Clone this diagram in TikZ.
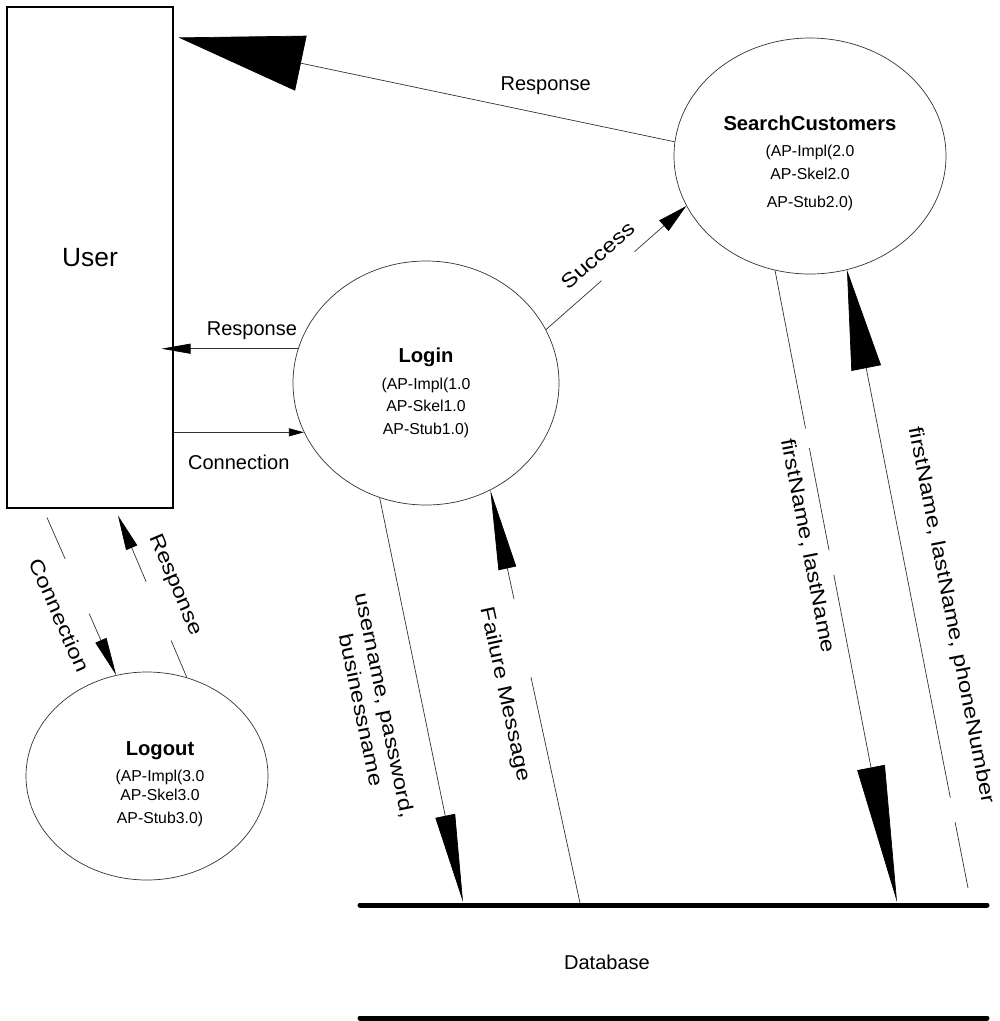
\documentclass[tikz,border=0pt]{standalone}
\usepackage{fontspec}
\setmainfont{Liberation Sans}
\usepackage{graphicx}
\usetikzlibrary{arrows.meta,calc,shapes.geometric}

\newcommand{\bubbletitle}{\fontsize{11.5}{14}\bfseries\selectfont}
\newcommand{\wide}[1]{\scalebox{1.2}[1]{#1}}

\tikzset{
  flow/.style={draw=black!80, line width=0.4pt},
  bubble/.style={draw=black!80, line width=0.4pt, ellipse, inner sep=0pt},
  bubbletext/.style={align=center, inner sep=0pt, font=\fontsize{9}{13}\selectfont},
  lbl/.style={font=\fontsize{11.4}{13.7}\selectfont, inner sep=0pt},
  headtip/.style 2 args={-{Triangle[length=#1,width=#2,color=black]}},
  dbline/.style={line width=1mm, line cap=round},
}

\begin{document}
\begin{tikzpicture}[x=0.2mm, y=-0.2mm]
  \useasboundingbox (0,0) rectangle (1000,1021);

  % processes and the user
  \node[draw=black, line width=0.6pt, minimum width=33.2mm, minimum height=100.2mm, inner sep=0pt,
    font=\fontsize{15}{18}\selectfont] (user) at (90,257.5) {User};
  \node[bubble, minimum width=53.2mm, minimum height=48.8mm,
    label={[bubbletext, yshift=-2mm]center:{{\bubbletitle Login}\\[2pt] (AP-Impl(1.0\\ AP-Skel1.0\\ AP-Stub1.0)}}]
    (login) at (426,383) {};
  \node[bubble, minimum width=54.4mm, minimum height=47.2mm,
    label={[bubbletext, yshift=-1.5mm]center:{{\bubbletitle SearchCustomers}\\[2pt] (AP-Impl(2.0\\ AP-Skel2.0\\[3pt] AP-Stub2.0)}}]
    (sc) at (810,156) {};
  \node[bubble, minimum width=48.4mm, minimum height=41.6mm,
    label={[bubbletext, yshift=-1.6mm, xshift=2.6mm]center:{{\bubbletitle Logout}\\[2pt] (AP-Impl(3.0\\[-2pt] AP-Skel3.0\\ AP-Stub3.0)}}]
    (logout) at (147,776) {};

  % data store
  \draw[dbline] (360,905) -- (987,905);
  \draw[dbline] (360,1018) -- (987,1018);
  \node[lbl] (db) at (607,962) {Database};
  \coordinate (dbA) at (463,902);
  \coordinate (dbB) at (580,903);
  \coordinate (dbC) at (897,902);
  \coordinate (dbD) at (968,888);

  % flows
  \draw[flow, headtip={25mm}{11.2mm}] (sc.174) -- node[lbl, pos=0.26, above=4mm] (r1) {Response}
    ($(user.north east)+(5,31)$);
  \draw[flow, headtip={5.8mm}{2mm}, shorten >=-2.4mm] (login.165) -- node[lbl, pos=0.37, above=1.8mm] {Response}
    (login.165 -| user.east);
  \draw[flow, headtip={3mm}{1.6mm}] (login.202 -| user.east) -- node[lbl, pos=0.5, below=4.4mm] {Connection}
    (login.202);
  \draw[flow, headtip={6mm}{2.8mm}, dash pattern=on 14.8mm off 8.8mm on 60mm] (login.24) --
    node[lbl, pos=0.47, sloped, above=2.8mm] {\wide{Success}} (sc.202);

  \draw[flow, headtip={7.6mm}{2.4mm}, dash pattern=on 9mm off 12mm on 60mm] ($(user.south)+(-43,9)$) --
    node[lbl, pos=0.55, sloped, below=4mm] {\wide{Connection}} (logout.107);
  \draw[flow, headtip={7mm}{2.4mm}, dash pattern=on 8mm off 12.8mm on 60mm] (logout.68) --
    node[lbl, pos=0.51, sloped, above=3.2mm] {\wide{Response}} ($(user.south)+(28,7)$);

  \draw[flow, headtip={17.6mm}{4mm}] (login.248) --
    node[lbl, pos=0.495, sloped, below=5.8mm, align=center] {\wide{username, password,}\\ \wide{businessname}} (dbA);
  \draw[flow, headtip={16mm}{3.6mm}, dash pattern=on 46.2mm off 16mm on 80mm] (dbB) --
    node[lbl, pos=0.52, sloped, below=4mm] {\wide{Failure Message}} (login.301);

  \draw[flow, headtip={27.4mm}{5.6mm}, dash pattern=on 32.2mm off 4mm on 20.8mm off 5mm on 100mm] (sc.253) --
    node[lbl, pos=0.43, sloped, below=2.3mm] {\wide{firstName, lastName}} (dbC);
  \draw[flow, headtip={20mm}{6mm}, dash pattern=on 13.4mm off 5mm on 150mm] (dbD) --
    node[lbl, pos=0.43, sloped, above=5.1mm] {\wide{firstName, lastName, phoneNumber}} (sc.288);
\end{tikzpicture}
\end{document}
